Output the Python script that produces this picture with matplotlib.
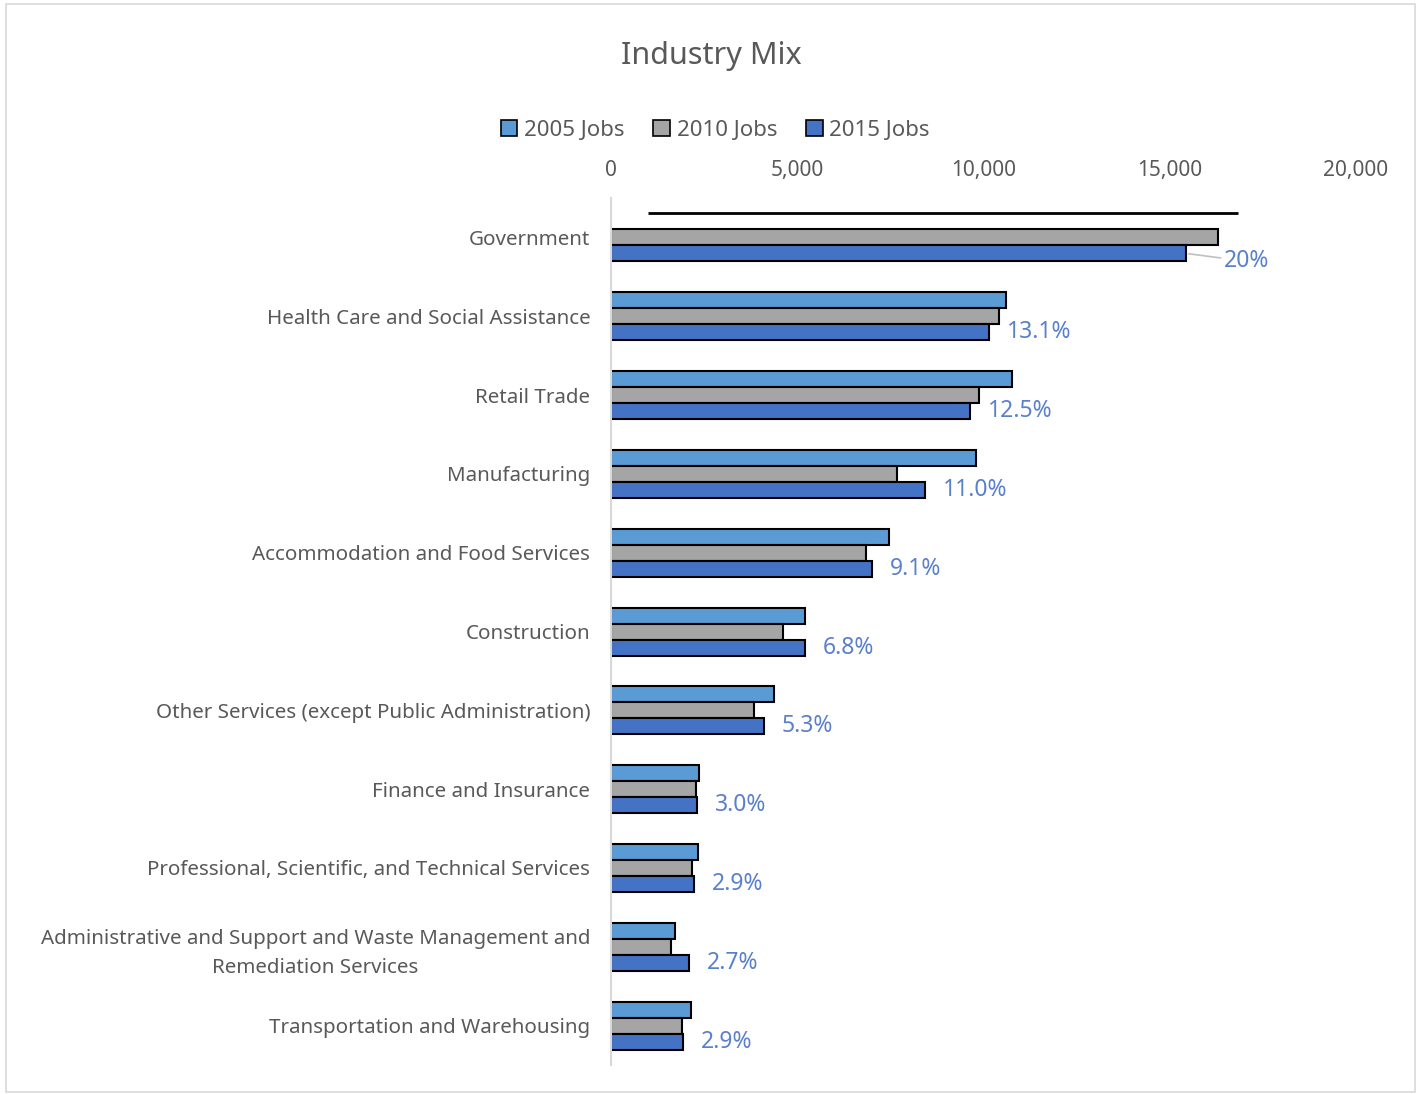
import matplotlib.pyplot as plt
from matplotlib.patches import Rectangle, Patch

plt.rcParams['font.family'] = ['Noto Sans', 'DejaVu Sans']

industries = [
    "Government",
    "Health Care and Social Assistance",
    "Retail Trade",
    "Manufacturing",
    "Accommodation and Food Services",
    "Construction",
    "Other Services (except Public Administration)",
    "Finance and Insurance",
    "Professional, Scientific, and Technical Services",
    "Administrative and Support and Waste Management and\nRemediation Services",
    "Transportation and Warehousing",
]
jobs_2005 = [None, 10600, 10770, 9800, 7460, 5210, 4380, 2360, 2340, 1720, 2150]
jobs_2010 = [16300, 10420, 9880, 7680, 6850, 4620, 3840, 2280, 2170, 1610, 1910]
jobs_2015 = [15440, 10150, 9640, 8430, 7010, 5210, 4110, 2310, 2230, 2090, 1930]
share_2015 = ["20%", "13.1%", "12.5%", "11.0%", "9.1%", "6.8%", "5.3%",
              "3.0%", "2.9%", "2.7%", "2.9%"]

c05 = "#5B9BD5"
c10 = "#A5A5A5"
c15 = "#4472C4"
txt = "#595959"

fig = plt.figure(figsize=(14.19, 10.94), dpi=100)
fig.patches.append(Rectangle((0.004, 0.002), 0.993, 0.994, transform=fig.transFigure,
                             fill=False, edgecolor="#D9D9D9", linewidth=1.2))
ax = fig.add_axes([0.4306, 0.0265, 0.525, 0.7925])

h = 0.203
for i in range(len(industries)):
    if jobs_2005[i] is not None:
        ax.barh(i - h, jobs_2005[i], height=h, color=c05, edgecolor="black", linewidth=1.5)
    ax.barh(i, jobs_2010[i], height=h, color=c10, edgecolor="black", linewidth=1.5)
    ax.barh(i + h, jobs_2015[i], height=h, color=c15, edgecolor="black", linewidth=1.5)

# stray outline where the 2005 government bar sits
ax.hlines(-1.5 * h, 990, 16830, color="black", linewidth=2)

lab_color = "#5A80CC"
for i, lab in enumerate(share_2015):
    if i == 0:
        ax.annotate(lab, xy=(jobs_2015[i], i + h), xytext=(jobs_2015[i] + 1000, i + h + 0.1),
                    color=lab_color, fontsize=16.5, va="center", ha="left",
                    arrowprops=dict(arrowstyle="-", color="#BFBFBF", lw=1.2,
                                    shrinkA=0, shrinkB=2))
    else:
        ax.text(jobs_2015[i] + 480, i + h, lab, color=lab_color, fontsize=16.5,
                va="center", ha="left")

ax.set_xlim(0, 20000)
ax.set_ylim(len(industries) - 0.5, -0.5)
ax.set_yticks(range(len(industries)))
ax.set_yticklabels(industries, fontsize=14.8, color=txt, multialignment="center",
                   linespacing=1.55)
ax.xaxis.tick_top()
ax.set_xticks([0, 5000, 10000, 15000, 20000])
ax.set_xticklabels(["0", "5,000", "10,000", "15,000", "20,000"], fontsize=15, color=txt)
ax.tick_params(axis="both", length=0)
ax.tick_params(axis="x", pad=12)
ax.tick_params(axis="y", pad=15)
for s in ["top", "right", "bottom"]:
    ax.spines[s].set_visible(False)
ax.spines["left"].set_color("#D9D9D9")
ax.spines["left"].set_linewidth(1.5)

fig.text(0.501, 0.949, "Industry Mix", ha="center", va="center", fontsize=22, color=txt)
handles = [Patch(facecolor=c, edgecolor="black", linewidth=1.2) for c in (c05, c10, c15)]
fig.legend(handles, ["2005 Jobs", "2010 Jobs", "2015 Jobs"], loc="center",
           bbox_to_anchor=(0.504, 0.881), ncol=3, frameon=False, fontsize=16,
           labelcolor=txt, handlelength=0.75, handleheight=0.75, handletextpad=0.3,
           columnspacing=1.3)

fig.savefig("out.png", dpi=100)
